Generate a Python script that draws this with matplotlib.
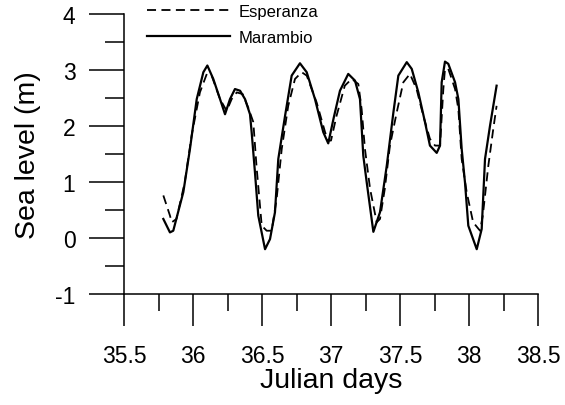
import matplotlib
matplotlib.use("Agg")
import matplotlib.pyplot as plt
from matplotlib.ticker import MultipleLocator

plt.rcParams['font.family'] = ['Liberation Sans', 'DejaVu Sans']
plt.rcParams['axes.unicode_minus'] = False

# Marambio (solid)
mar_day = [35.785, 35.833, 35.857, 35.93, 35.978, 36.027, 36.075, 36.104, 36.147, 36.196,
           36.232, 36.268, 36.304, 36.341, 36.377, 36.413, 36.425, 36.449, 36.473, 36.522,
           36.558, 36.594, 36.618, 36.667, 36.715, 36.775, 36.824, 36.884, 36.944, 36.98,
           37.02, 37.065, 37.125, 37.174, 37.21, 37.234, 37.259, 37.307, 37.355, 37.404,
           37.452, 37.488, 37.549, 37.585, 37.633, 37.681, 37.717, 37.766, 37.79, 37.802,
           37.826, 37.85, 37.899, 37.923, 37.947, 37.971, 37.995, 38.056, 38.092, 38.116,
           38.152, 38.2]
mar_lvl = [0.34, 0.10, 0.13, 0.82, 1.59, 2.48, 2.96, 3.08, 2.84, 2.48,
           2.21, 2.48, 2.66, 2.63, 2.48, 2.21, 1.89, 1.17, 0.40, -0.20,
           -0.02, 0.46, 1.41, 2.18, 2.90, 3.12, 2.96, 2.48, 1.89, 1.69,
           2.15, 2.63, 2.93, 2.81, 2.48, 1.47, 0.99, 0.11, 0.46, 1.29,
           2.24, 2.90, 3.14, 3.02, 2.60, 2.07, 1.65, 1.52, 1.65, 2.78,
           3.15, 3.11, 2.78, 2.48, 1.59, 0.99, 0.22, -0.20, 0.16, 1.41,
           2.0, 2.72]

# Esperanza (dashed)
esp_day = [35.785, 35.833, 35.846, 35.88, 35.94, 35.99, 36.05, 36.10, 36.135, 36.196,
           36.244, 36.28, 36.317, 36.36, 36.40, 36.437, 36.46, 36.498, 36.534, 36.57,
           36.606, 36.643, 36.69, 36.739, 36.788, 36.824, 36.896, 36.957, 36.98, 37.0,
           37.04, 37.10, 37.15, 37.198, 37.222, 37.246, 37.283, 37.331, 37.355, 37.39,
           37.427, 37.476, 37.524, 37.572, 37.62, 37.669, 37.717, 37.754, 37.79, 37.814,
           37.826, 37.85, 37.899, 37.923, 37.947, 37.983, 38.03, 38.08, 38.10, 38.14,
           38.176, 38.2]
esp_lvl = [0.76, 0.40, 0.28, 0.34, 0.99, 1.83, 2.60, 2.93, 2.90, 2.48,
           2.27, 2.48, 2.60, 2.57, 2.33, 2.07, 1.29, 0.22, 0.13, 0.13,
           0.70, 1.59, 2.36, 2.84, 2.96, 2.90, 2.42, 1.89, 1.74, 1.74,
           2.18, 2.72, 2.84, 2.75, 2.30, 1.59, 0.88, 0.28, 0.34, 0.88,
           1.65, 2.24, 2.78, 2.93, 2.66, 2.18, 1.77, 1.65, 1.65, 2.66,
           3.02, 3.02, 2.66, 2.30, 1.41, 0.82, 0.28, 0.13, 0.40, 1.29,
           1.95, 2.36]

x_ticks = [35.5, 36, 36.5, 37, 37.5, 38, 38.5]
x_tick_labels = ["35.5", "36", "36.5", "37", "37.5", "38", "38.5"]
y_ticks = [-1, 0, 1, 2, 3, 4]

fig = plt.figure(figsize=(5.65, 4.06), dpi=100)
ax = fig.add_axes([124/565, 1-295/406, 414/565, 280/406])

ax.plot(esp_day, esp_lvl, color='black', lw=1.3, dashes=(5, 3), label='Esperanza')
ax.plot(mar_day, mar_lvl, color='black', lw=1.6, label='Marambio')

ax.set_xlim(35.5, 38.5)
ax.set_ylim(-1, 4)
ax.set_xticks(x_ticks)
ax.set_xticklabels(x_tick_labels)
ax.set_yticks(y_ticks)
ax.xaxis.set_minor_locator(MultipleLocator(0.25))
ax.yaxis.set_minor_locator(MultipleLocator(0.5))

for s in ['top', 'right']:
    ax.spines[s].set_visible(False)
for s in ['left', 'bottom']:
    ax.spines[s].set_linewidth(1.1)

ax.tick_params(axis='y', which='major', direction='out', length=25, width=1.1, pad=10, labelsize=16.5)
ax.tick_params(axis='y', which='minor', direction='out', length=14, width=1.1)
ax.tick_params(axis='x', which='major', direction='out', length=23, width=1.1, pad=13, labelsize=16.5)
ax.tick_params(axis='x', which='minor', direction='out', length=12, width=1.1)

ax.set_xlabel('Julian days', fontsize=20.5, labelpad=0)
ax.set_ylabel('Sea level (m)', fontsize=20.5, labelpad=10)

fig.legend(loc='upper left', bbox_to_anchor=(147/565, 1-5/406), frameon=False,
           borderpad=0, borderaxespad=0, handlelength=5.0, handletextpad=0.5,
           labelspacing=0.65, fontsize=12)

fig.savefig('out.png', dpi=100)
